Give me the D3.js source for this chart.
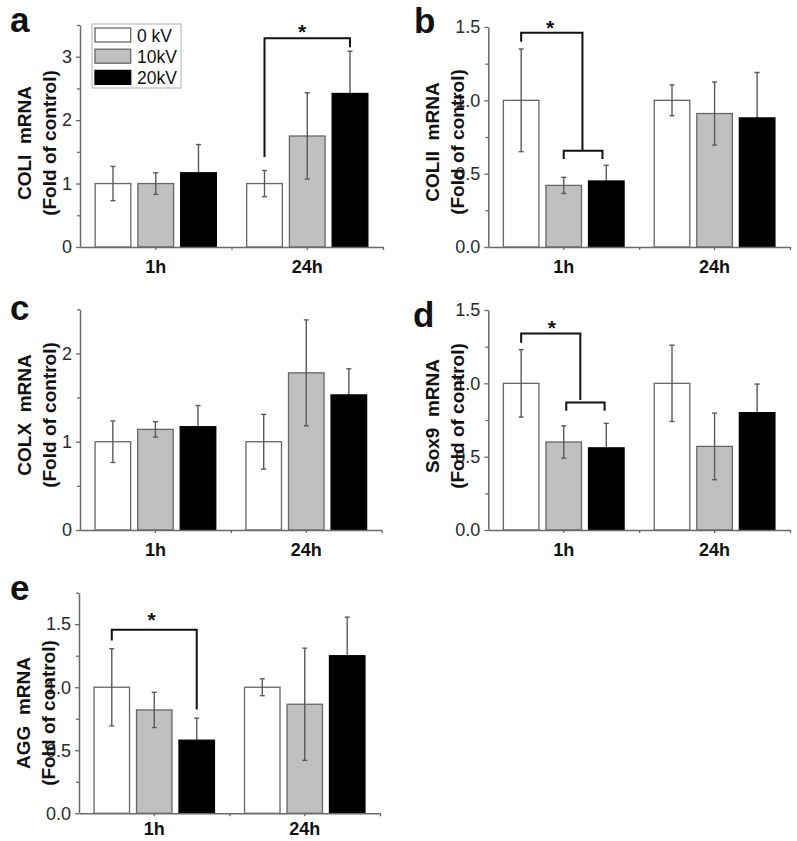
<!DOCTYPE html>
<html>
<head>
<meta charset="utf-8">
<script src="https://cdn.jsdelivr.net/npm/d3@7"></script>
<style>
  html, body { margin: 0; padding: 0; background: #fff; }
  svg { display: block; font-family: "Liberation Sans", Arial, sans-serif; }
</style>
</head>
<body>
<svg id="chart" width="797" height="841"></svg>
<script>
// ---------------- data ----------------
const groups = ["1h", "24h"];
const series = ["0 kV", "10kV", "20kV"];
const seriesFill = ["#ffffff", "#c0c0c0", "#000000"];

const colI_mean  = [[1.00, 1.00, 1.17], [1.00, 1.75, 2.42]];
const colI_err   = [[0.27, 0.17, 0.445], [0.206, 0.68, 0.666]];
const colII_mean = [[1.00, 0.42, 0.45], [1.00, 0.91, 0.88]];
const colII_err  = [[0.35, 0.055, 0.107], [0.105, 0.215, 0.31]];
const colX_mean  = [[1.00, 1.14, 1.17], [1.00, 1.78, 1.53]];
const colX_err   = [[0.235, 0.087, 0.24], [0.31, 0.60, 0.296]];
const sox9_mean  = [[1.00, 0.60, 0.56], [1.00, 0.57, 0.80]];
const sox9_err   = [[0.23, 0.11, 0.167], [0.26, 0.227, 0.195]];
const agg_mean   = [[1.00, 0.82, 0.58], [1.00, 0.865, 1.25]];
const agg_err    = [[0.306, 0.14, 0.175], [0.067, 0.445, 0.306]];

const yMax       = [3.5, 1.5, 2.5, 1.5, 1.75];
const majorTicks = [[0, 1, 2, 3], [0, 0.5, 1.0, 1.5], [0, 1, 2], [0, 0.5, 1.0, 1.5], [0, 0.5, 1.0, 1.5]];
const minorTicks = [[0.5, 1.5, 2.5, 3.5], [0.25, 0.75, 1.25], [0.5, 1.5, 2.5], [0.25, 0.75, 1.25], [0.25, 0.75, 1.25, 1.75]];
const tickFmt    = ["d", ".1f", "d", ".1f", ".1f"];
const panelLetters = ["a", "b", "c", "d", "e"];
const yLabels = ["COLI  mRNA", "COLII  mRNA", "COLX  mRNA", "Sox9  mRNA", "AGG  mRNA"];
const yLabel2 = "(Fold of control)";

// significance brackets: points as [group, series position, value]
const bracketsA = [[[1, 0, 1.42], [1, 0, 3.29], [1, 2, 3.29], [1, 2, 3.15]]];
const bracketsB = [[[0, 0, 1.40], [0, 0, 1.461], [0, 1.44, 1.461], [0, 1.44, 0.661]],
                   [[0, 1.0, 0.60], [0, 1.0, 0.656], [0, 1.91, 0.656], [0, 1.91, 0.60]]];
const bracketsC = [];
const bracketsD = [[[0, 0, 1.277], [0, 0, 1.34], [0, 1.39, 1.34], [0, 1.39, 0.886]],
                   [[0, 1.06, 0.813], [0, 1.06, 0.870], [0, 1.96, 0.870], [0, 1.96, 0.813]]];
const bracketsE = [[[0, 0, 1.37], [0, 0, 1.456], [0, 2, 1.456], [0, 2, 0.823]]];
// stars: [group, series position, value at star centre]
const starsA = [[1, 0.88, 3.465]];
const starsB = [[0, 0.68, 1.529]];
const starsC = [];
const starsD = [[0, 0.72, 1.409]];
const starsE = [[0, 0.94, 1.571]];

// ---------------- layout ----------------
const panels = [
  { mean: colI_mean,  err: colI_err,  brackets: bracketsA, stars: starsA, left: 80,    right: 383,   top: 25,    bottom: 247,   labelY: 143, letterX: 10,  letterY: 32,  xPad: 10 },
  { mean: colII_mean, err: colII_err, brackets: bracketsB, stars: starsB, left: 488.3, right: 790,   top: 27,    bottom: 247,   labelY: 142, letterX: 414, letterY: 33,  xPad: 10 },
  { mean: colX_mean,  err: colX_err,  brackets: bracketsC, stars: starsC, left: 80,    right: 381.7, top: 309.3, bottom: 530,   labelY: 415, letterX: 10,  letterY: 320, xPad: 10 },
  { mean: sox9_mean,  err: sox9_err,  brackets: bracketsD, stars: starsD, left: 488.3, right: 790,   top: 310,   bottom: 530,   labelY: 416, letterX: 413, letterY: 327, xPad: 10 },
  { mean: agg_mean,   err: agg_err,   brackets: bracketsE, stars: starsE, left: 79,    right: 380,   top: 592.7, bottom: 813.3, labelY: 713, letterX: 10,  letterY: 600, xPad: 6 }
];

const svg = d3.select("#chart");
svg.append("rect").attr("width", 797).attr("height", 841).attr("fill", "#fff");

const axisColor = "#6a6a6a";

panels.forEach((p, pi) => {
  const g = svg.append("g");

  const y = d3.scaleLinear().domain([0, yMax[pi]]).range([p.bottom, p.top]);
  const x0 = d3.scaleBand().domain(groups).range([p.left, p.right]).padding(0);
  const w = x0.bandwidth();
  const x1 = d3.scaleBand().domain(d3.range(series.length)).range([w * 0.1, w * 0.9]).paddingInner(0.165).paddingOuter(0);
  const bw = x1.bandwidth();
  const posX = (gi, sp) => x0(groups[gi]) + x1(0) + sp * x1.step() + bw / 2;

  const recs = [];
  groups.forEach((grp, gi) => series.forEach((s, si) => {
    recs.push({ gi, si, v: p.mean[gi][si], e: p.err[gi][si] });
  }));

  const barsLow = recs.filter(d => d.si < 2);
  const barsHigh = recs.filter(d => d.si === 2);

  const drawBars = (sel, data) => sel.selectAll(null).data(data).enter().append("rect")
    .attr("x", d => x0(groups[d.gi]) + x1(d.si))
    .attr("y", d => y(d.v))
    .attr("width", bw)
    .attr("height", d => y(0) - y(d.v))
    .attr("fill", d => seriesFill[d.si])
    .attr("stroke", d => d.si === 2 ? "#000" : "#666")
    .attr("stroke-width", 1.3);

  drawBars(g, barsLow);

  const eg = g.append("g").attr("stroke", "#5a5a5a").attr("stroke-width", 1.4).attr("fill", "none");
  recs.forEach(d => {
    const cx = posX(d.gi, d.si);
    eg.append("line").attr("x1", cx).attr("x2", cx).attr("y1", y(d.v + d.e)).attr("y2", y(d.v - d.e));
    eg.append("line").attr("x1", cx - 2.5).attr("x2", cx + 2.5).attr("y1", y(d.v + d.e)).attr("y2", y(d.v + d.e));
    eg.append("line").attr("x1", cx - 2.5).attr("x2", cx + 2.5).attr("y1", y(d.v - d.e)).attr("y2", y(d.v - d.e));
  });

  drawBars(g, barsHigh);

  const yAxis = g.append("g").attr("transform", `translate(${p.left},0)`)
    .call(d3.axisLeft(y).tickValues(majorTicks[pi]).tickSize(4).tickSizeOuter(0).tickPadding(4).tickFormat(d3.format(tickFmt[pi])));
  yAxis.select(".domain").attr("stroke", axisColor).attr("stroke-width", 1.5);
  yAxis.selectAll(".tick line").attr("stroke", axisColor).attr("stroke-width", 1.3);
  yAxis.selectAll(".tick text").attr("font-size", 18).attr("fill", "#2a2a2a")
    .attr("font-family", "'Liberation Sans', Arial, sans-serif");
  const yMinor = g.append("g").attr("transform", `translate(${p.left},0)`)
    .call(d3.axisLeft(y).tickValues(minorTicks[pi]).tickSize(3).tickFormat(""));
  yMinor.select(".domain").remove();
  yMinor.selectAll(".tick line").attr("stroke", axisColor).attr("stroke-width", 1.3);

  const xAxis = g.append("g").attr("transform", `translate(0,${p.bottom})`)
    .call(d3.axisBottom(x0).tickSize(3).tickSizeOuter(0).tickPadding(p.xPad));
  xAxis.select(".domain").attr("stroke", axisColor).attr("stroke-width", 1.5);
  xAxis.selectAll(".tick line").attr("stroke", axisColor).attr("stroke-width", 1.3);
  xAxis.selectAll(".tick text").attr("font-size", 18).attr("font-weight", "bold").attr("fill", "#111")
    .attr("font-family", "'Liberation Sans', Arial, sans-serif");
  const xl = d3.scaleLinear().domain([0, groups.length]).range([p.left, p.right]);
  const xMinor = g.append("g").attr("transform", `translate(0,${p.bottom})`)
    .call(d3.axisBottom(xl).tickValues(d3.range(1, groups.length + 1)).tickSize(3).tickFormat(""));
  xMinor.select(".domain").remove();
  xMinor.selectAll(".tick line").attr("stroke", axisColor).attr("stroke-width", 1.3);

  const lab = g.append("g").attr("font-weight", "bold").attr("font-size", 19).attr("fill", "#111").attr("text-anchor", "middle");
  lab.append("text").attr("transform", `translate(${p.left - 56},${p.labelY}) rotate(-90)`).attr("dy", "0.35em")
    .attr("xml:space", "preserve").style("white-space", "pre").text(yLabels[pi]);
  lab.append("text").attr("transform", `translate(${p.left - 31},${p.labelY}) rotate(-90)`).attr("dy", "0.35em").text(yLabel2);

  g.append("text").attr("x", p.letterX).attr("y", p.letterY).attr("font-size", 35).attr("font-weight", "bold")
    .attr("fill", "#111").text(panelLetters[pi]);

  const line = d3.line().x(d => posX(d[0], d[1])).y(d => y(d[2]));
  p.brackets.forEach(b => {
    g.append("path").attr("d", line(b)).attr("fill", "none").attr("stroke", "#111").attr("stroke-width", 2);
  });
  p.stars.forEach(s => {
    g.append("text").attr("x", posX(s[0], s[1])).attr("y", y(s[2]) + 12)
      .attr("text-anchor", "middle").attr("font-size", 21).attr("font-weight", "bold").attr("fill", "#111").text("*");
  });

  if (pi === 0) {
    const lg = g.append("g");
    lg.append("rect").attr("x", 92).attr("y", 24).attr("width", 89).attr("height", 64)
      .attr("fill", "#fff").attr("stroke", "#b0b0b0").attr("stroke-width", 1);
    series.forEach((s, si) => {
      const yy = 28 + si * 21.2;
      lg.append("rect").attr("x", 95).attr("y", yy).attr("width", bw).attr("height", 14)
        .attr("fill", seriesFill[si]).attr("stroke", si === 2 ? "#000" : "#666").attr("stroke-width", 1.3);
      lg.append("text").attr("x", 137).attr("y", yy + 13.5).attr("font-size", 17.5).attr("fill", "#111")
        .attr("xml:space", "preserve").style("white-space", "pre").text(s);
    });
  }
});
</script>
</body>
</html>
